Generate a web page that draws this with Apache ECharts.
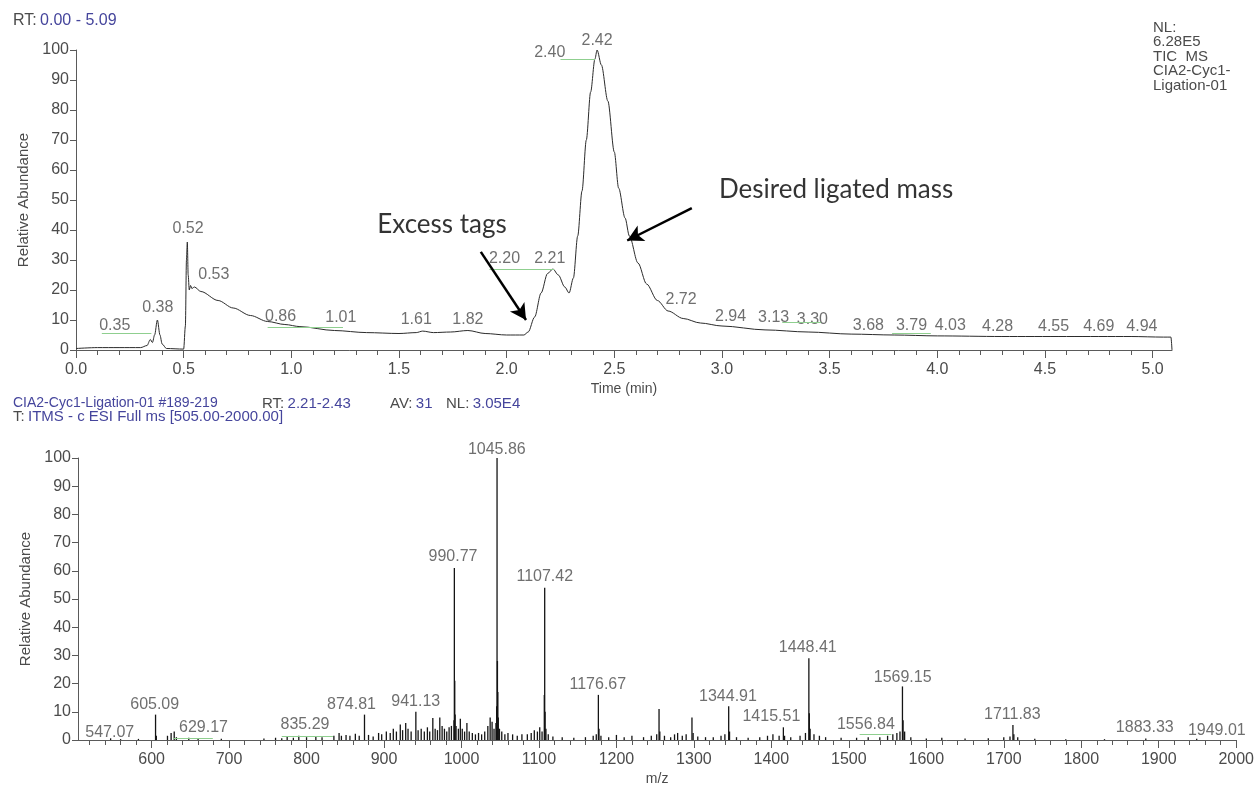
<!DOCTYPE html>
<html lang="en">
<head>
<meta charset="UTF-8">
<title>TIC and full MS</title>
<script src="https://cdn.jsdelivr.net/npm/echarts@6/dist/echarts.min.js"></script>
<style>
    html, body {margin: 0; padding: 0; background: #fff;}
    #main {width: 1257px; height: 788px;}
</style>
</head>
<body>
<div id="main"></div>
<script>
// --- chromatogram (TIC), time in min / relative abundance ---
var ticTime = [0.00, 0.10, 0.20, 0.30, 0.33, 0.345, 0.355, 0.365, 0.378, 0.39, 0.40, 0.42, 0.50,
    0.508, 0.513, 0.517, 0.521, 0.526, 0.532, 0.538, 0.55, 0.58, 0.66, 0.73, 0.81, 0.89, 0.97, 1.04,
    1.20, 1.35, 1.50, 1.58, 1.61, 1.66, 1.74, 1.82, 1.90, 2.00, 2.08, 2.10, 2.13, 2.16, 2.19, 2.215,
    2.24, 2.27, 2.29, 2.31, 2.33, 2.35, 2.37, 2.39, 2.41, 2.42, 2.44, 2.47, 2.50, 2.52, 2.55, 2.57,
    2.61, 2.65, 2.70, 2.75, 2.82, 2.90, 3.00, 3.20, 3.40, 3.60, 3.80, 4.00, 4.30, 4.60, 4.90, 5.05,
    5.085, 5.09];
var ticAbund = [0.5, 0.8, 0.8, 0.8, 1.5, 3.5, 2.5, 5, 10, 5, 2, 0.5, 0.3,
    8, 30, 36, 25, 20, 21.5, 20.5, 21, 19.5, 16.5, 14, 11.5, 9.5, 8.5, 7.8,
    6.5, 5.8, 5.5, 5.8, 6.3, 5.8, 6, 6.5, 5.5, 5, 5, 6, 11, 19, 25.5, 27,
    25, 21, 19, 24, 38, 53, 70, 86, 97, 100, 95, 83, 66, 54, 44, 38,
    29, 22, 16.5, 13, 10.5, 9, 8, 6.7, 6, 5.3, 5, 4.7, 4.5, 4.5, 4.5, 4.3,
    4.3, 0];

// peak labels of the chromatogram (text, label x, label y)
var ticLabelText = ['0.35', '0.38', '0.52', '0.53', '0.86', '1.01', '1.61', '1.82', '2.20', '2.21',
    '2.40', '2.42', '2.72', '2.94', '3.13', '3.30', '3.68', '3.79', '4.03', '4.28', '4.55', '4.69', '4.94'];
var ticLabelX = [0.18, 0.38, 0.52, 0.64, 0.95, 1.23, 1.58, 1.82, 1.99, 2.20,
    2.20, 2.42, 2.81, 3.04, 3.24, 3.42, 3.68, 3.88, 4.06, 4.28, 4.54, 4.75, 4.95];
var ticLabelY = [8.3, 14, 40.6, 25, 11, 10.7, 10, 10, 30.6, 30.6,
    99, 103, 16.7, 11, 10.7, 10, 8.3, 8.3, 8.3, 7.8, 7.8, 7.8, 7.8];

// --- spectrum, m/z / relative abundance ---
var specMz = [547.1, 560, 583, 605.1, 606.1, 620.5, 625.2, 629.2, 632, 648, 660, 690, 745, 760, 768,
    775, 783, 790, 800, 812, 820, 835.3, 842, 845, 851, 856, 863, 868, 874.8, 880, 886, 893, 897,
    903, 908, 912, 916, 921, 924, 928, 931, 935, 941.1, 944, 948, 952, 956, 959, 963, 966, 969,
    972, 975, 978, 981, 984, 987, 990.3, 990.8, 991.3, 991.8, 993, 996, 998.5, 1001, 1004, 1007,
    1010, 1014, 1018, 1022, 1026, 1030, 1034, 1037, 1039.5, 1042, 1044.5, 1045.4, 1045.9, 1046.4,
    1046.9, 1047.5, 1049, 1052, 1056, 1060, 1066, 1072, 1078, 1085, 1090, 1094, 1098, 1101, 1104,
    1106.9, 1107.4, 1107.9, 1109, 1112, 1118, 1130, 1145, 1160, 1170, 1174, 1176.7, 1177.5, 1180,
    1190, 1200, 1210, 1220, 1235, 1245, 1252, 1255, 1256, 1262, 1270, 1275, 1279, 1285, 1290,
    1297.5, 1299, 1305, 1315, 1325, 1335, 1340, 1344.9, 1346, 1355, 1370, 1385, 1395, 1402, 1410,
    1415.5, 1417, 1425, 1437, 1444, 1448.4, 1449, 1450, 1455, 1462, 1470, 1490, 1510, 1525, 1540,
    1550, 1556.8, 1562, 1566, 1569.2, 1570, 1572, 1580, 1600, 1620, 1650, 1680, 1700, 1708, 1711.8,
    1713, 1718, 1740, 1780, 1830, 1883.3, 1949];
var specInt = [0.6, 0.3, 0.4, 9, 1.5, 1.5, 2.5, 3, 1, 0.8, 0.5, 0.4, 0.5, 0.8, 0.6,
    1.2, 0.8, 1.5, 1, 1.2, 1, 1.5, 2.5, 1.5, 1.8, 1.5, 2.2, 1.5, 9, 1.8, 1.2, 2.5, 2,
    3, 2.5, 4, 3, 5.5, 3.5, 6, 4, 3, 10, 3.5, 4, 3, 4.5, 3, 7.8, 4, 3.5,
    8, 5, 4, 3, 4.5, 5, 7, 61, 21, 9, 5, 4, 7.5, 4, 3, 6,
    3, 2.5, 2, 2.5, 2, 3, 5, 8, 6.5, 4, 6, 12, 100, 28,
    17, 8, 4, 3, 2, 2.5, 2, 1.5, 2, 2, 2.5, 3.5, 3, 4.5, 3,
    16, 54, 10, 4, 2, 1.2, 1, 0.8, 1, 1.5, 2, 16, 4, 1.5,
    1, 1.8, 1, 1.5, 1, 1.5, 2, 11, 3, 1.5, 1, 2, 2.5, 1.5, 2,
    8, 2.5, 1.2, 1, 1, 1.5, 2, 12, 3, 1, 0.8, 1, 1.5, 2, 1.5,
    4.5, 1.5, 1, 1.5, 2.5, 29, 9.5, 4, 2, 1.5, 1, 0.8, 0.8, 1, 1,
    1.5, 2, 2.5, 3, 19, 7, 3, 1, 0.5, 0.8, 0.5, 0.6, 1, 1.2, 5.3,
    2, 1, 0.4, 0.3, 0.3, 0.5, 0.4];

var specLabelText = ['547.07', '605.09', '629.17', '835.29', '874.81', '941.13', '990.77', '1045.86',
    '1107.42', '1176.67', '1344.91', '1415.51', '1448.41', '1556.84', '1569.15', '1711.83', '1883.33', '1949.01'];
var specLabelX = [546, 604, 667, 798, 858, 941, 989, 1045.6, 1107.5, 1176, 1344, 1400, 1447, 1522,
    1569.5, 1711, 1882, 1975];
var specLabelY = [2.8, 12.4, 4.3, 5.3, 12.4, 13.5, 65, 103, 58, 19.5, 15.3, 8.2, 32.6, 5.3, 22.3,
    8.9, 4.3, 3.5];

// axis ticks
var timeTicks = [0, 0.5, 1.0, 1.5, 2.0, 2.5, 3.0, 3.5, 4.0, 4.5, 5.0];
var mzTicks = [600, 700, 800, 900, 1000, 1100, 1200, 1300, 1400, 1500, 1600, 1700, 1800, 1900, 2000];

var timeMinor = [];
for (var i = 0; i <= 50; i++) timeMinor.push(i / 10);
var mzMinor = [];
for (var m = 520; m <= 2000; m += 20) mzMinor.push(m);

var FONT = '"Liberation Sans", Arial, sans-serif';
var NOTE_FONT = 'Lato, "Open Sans", sans-serif';
var GREY = '#4b4b4b';
var BLUE = '#45459c';
var AXIS = '#5a5a5a';

function zip(xs, ys, txt) {
    var out = [];
    for (var k = 0; k < xs.length; k++) {
        out.push(txt ? [xs[k], ys[k], txt[k]] : [xs[k], ys[k]]);
    }
    return out;
}

function majorX(grid, min, max, ticks, fmt, name) {
    return {
        gridIndex: grid, type: 'value', min: min, max: max, position: 'bottom',
        axisLine: {show: true, lineStyle: {color: AXIS, width: 1}},
        axisTick: {show: true, length: 8, customValues: ticks, lineStyle: {color: AXIS}},
        axisLabel: {customValues: ticks, formatter: fmt, margin: 12, fontSize: 16, color: GREY, fontFamily: FONT},
        splitLine: {show: false},
        name: name, nameLocation: 'middle', nameGap: 32,
        nameTextStyle: {fontSize: 14, color: GREY, fontFamily: FONT}
    };
}
function minorX(grid, min, max, ticks) {
    return {
        gridIndex: grid, type: 'value', min: min, max: max, position: 'bottom',
        axisLine: {show: false},
        axisTick: {show: true, length: 5, customValues: ticks, lineStyle: {color: AXIS}},
        axisLabel: {show: false},
        splitLine: {show: false}
    };
}
function abundY(grid) {
    return {
        gridIndex: grid, type: 'value', min: 0, max: 100, interval: 10,
        axisLine: {show: true, lineStyle: {color: AXIS, width: 1}},
        axisTick: {show: true, length: 6, lineStyle: {color: AXIS}},
        axisLabel: {margin: 7, fontSize: 16, color: GREY, fontFamily: FONT},
        splitLine: {show: false},
        name: 'Relative Abundance', nameLocation: 'middle', nameGap: 44,
        nameTextStyle: {fontSize: 15, color: GREY, fontFamily: FONT}
    };
}
function labelSeries(xi, yi, data, size, font, color) {
    return {
        type: 'scatter', xAxisIndex: xi, yAxisIndex: yi, data: data, symbolSize: 1, clip: false,
        itemStyle: {color: 'transparent'}, silent: true,
        label: {show: true, position: 'inside', formatter: function (p) { return p.data[2]; },
            fontSize: size, fontFamily: font, color: color}
    };
}
function header(x, y, parts, size) {
    var rich = {
        k: {fontSize: size, fontFamily: FONT, fill: GREY},
        v: {fontSize: size, fontFamily: FONT, fill: BLUE}
    };
    return {type: 'text', left: x, top: y, style: {text: parts, rich: rich}};
}

var MyChart = echarts.init(document.getElementById('main'));

var topLabels = labelSeries(0, 0, zip(ticLabelX, ticLabelY, ticLabelText), 16, FONT, GREY);
topLabels.markLine = {
    silent: true, symbol: ['none', 'none'], label: {show: false},
    lineStyle: {color: '#8fcf8f', width: 1, type: 'solid'},
    data: [
        [{coord: [0.12, 5.7]}, {coord: [0.35, 5.7]}],
        [{coord: [0.89, 7.7]}, {coord: [1.24, 7.7]}],
        [{coord: [1.92, 27]}, {coord: [2.22, 27]}],
        [{coord: [2.25, 97]}, {coord: [2.41, 97]}],
        [{coord: [3.28, 9.3]}, {coord: [3.46, 9.3]}],
        [{coord: [3.79, 5.7]}, {coord: [3.97, 5.7]}]
    ]
};

var notes = labelSeries(0, 0, [[1.70, 41.7, 'Excess tags'], [3.53, 53.3, 'Desired ligated mass']],
    26, NOTE_FONT, '#000');
notes.markLine = {
    silent: true, symbol: ['none', 'arrow'], symbolSize: [13, 16], label: {show: false},
    lineStyle: {color: '#000', width: 2.5, type: 'solid'},
    data: [
        [{coord: [1.88, 32.7]}, {coord: [2.09, 10]}],
        [{coord: [2.86, 47.3]}, {coord: [2.56, 36.5]}]
    ]
};

var botLabels = labelSeries(2, 1, zip(specLabelX, specLabelY, specLabelText), 16, FONT, GREY);
botLabels.markLine = {
    silent: true, symbol: ['none', 'none'], label: {show: false},
    lineStyle: {color: '#8fcf8f', width: 1, type: 'solid'},
    data: [
        [{coord: [628, 0.7]}, {coord: [679, 0.7]}],
        [{coord: [768, 1.5]}, {coord: [834, 1.5]}],
        [{coord: [1514, 2]}, {coord: [1555, 2]}]
    ]
};

var option = {
    animation: false,
    backgroundColor: '#fff',
    grid: [
        {left: 76, right: 85, top: 50, bottom: 438},
        {left: 78, right: 20, top: 458, bottom: 48}
    ],
    xAxis: [
        majorX(0, 0, 5.09, timeTicks, function (v) { return v.toFixed(1); }, 'Time (min)'),
        minorX(0, 0, 5.09, timeMinor),
        majorX(1, 505, 2000, mzTicks, function (v) { return String(v); }, 'm/z'),
        minorX(1, 505, 2000, mzMinor)
    ],
    yAxis: [abundY(0), abundY(1)],
    graphic: [
        header(13, 13, '{k|RT:} {v|0.00 - 5.09}', 16),
        {type: 'text', left: 1153, top: 20, style: {
            text: 'NL:\n6.28E5\nTIC  MS\nCIA2-Cyc1-\nLigation-01',
            fontSize: 15, lineHeight: 14.5, fontFamily: FONT, fill: GREY
        }},
        header(13, 396, '{v|CIA2-Cyc1-Ligation-01 #189-219}', 14),
        header(262, 396, '{k|RT:} {v|2.21-2.43}', 15),
        header(390, 396, '{k|AV:} {v|31}', 15),
        header(446, 396, '{k|NL:} {v|3.05E4}', 15),
        header(13, 409, '{k|T:} {v|ITMS - c ESI Full ms [505.00-2000.00]}', 15)
    ],
    series: [
        {
            type: 'line', xAxisIndex: 0, yAxisIndex: 0, data: zip(ticTime, ticAbund),
            showSymbol: false, smooth: 0.3, smoothMonotone: 'x', silent: true,
            lineStyle: {color: '#2b2b2b', width: 1}
        },
        {
            type: 'bar', xAxisIndex: 2, yAxisIndex: 1, data: zip(specMz, specInt),
            barWidth: 1.3, silent: true, itemStyle: {color: '#141414'}
        },
        topLabels,
        notes,
        botLabels
    ]
};
MyChart.setOption(option);
</script>
</body>
</html>
